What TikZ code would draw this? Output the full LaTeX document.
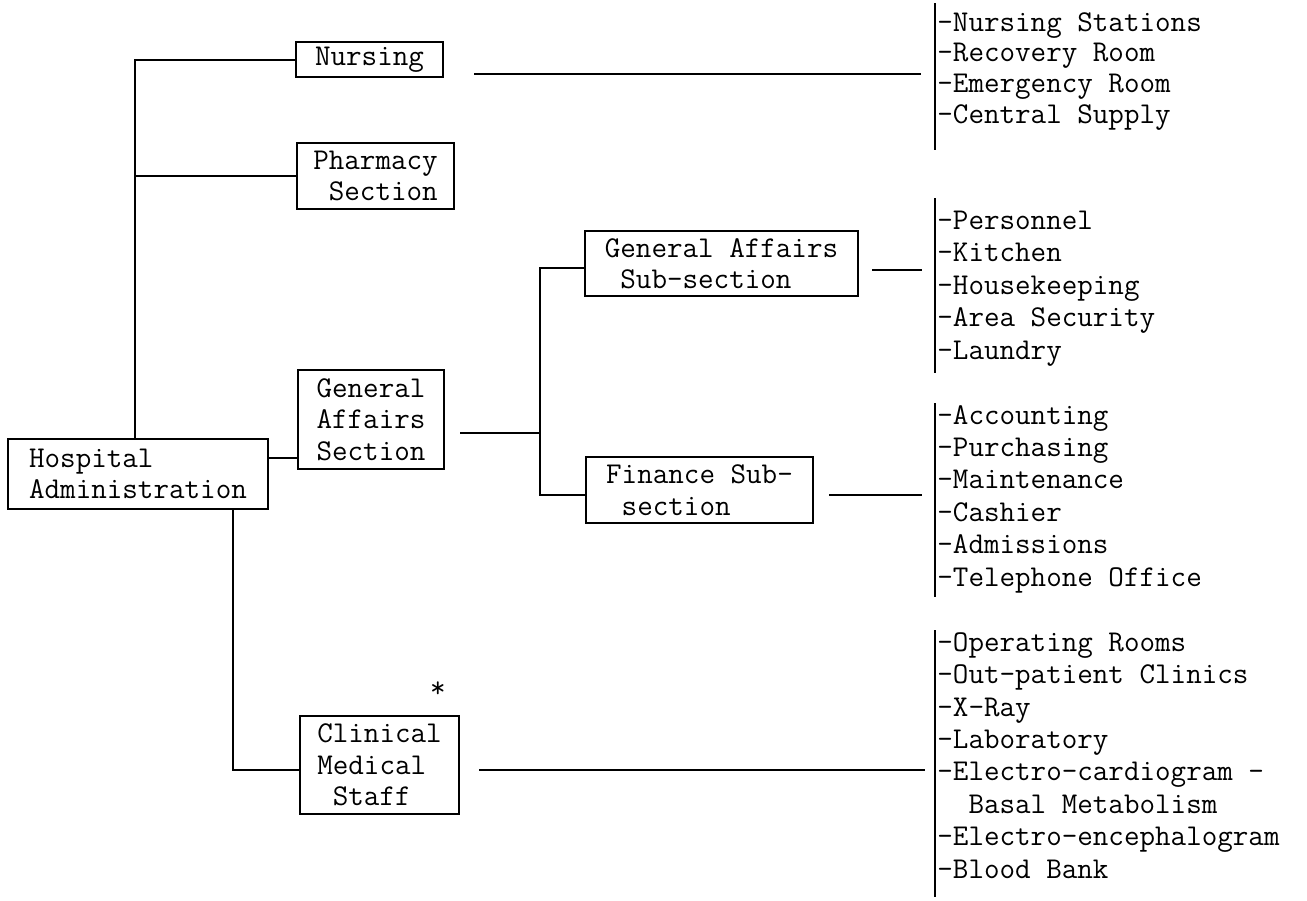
\documentclass[tikz,border=0pt]{standalone}
\usepackage{fontspec}
\begin{document}
\begin{tikzpicture}[x=0.5pt,y=-0.5pt,
    box/.style={draw,line width=1pt,inner sep=0pt,align=left,
      font=\ttfamily\fontsize{15.1}{15.7}\selectfont},
    link/.style={line width=1pt},
    items/.style={inner sep=0pt,align=left,anchor=base west,
      font=\ttfamily\fontsize{15.1}{16.2}\selectfont}]
  \useasboundingbox (0,0) rectangle (1307,900);
  % offices
  \node[box,anchor=north west,minimum width=130pt,minimum height=35pt] (admin) at (7,438) {Hospital\\Administration};
  \node[box,anchor=north west,minimum width=73.5pt,minimum height=17.5pt] (nursing) at (295,41) {Nursing};
  \node[box,anchor=north west,minimum width=78.5pt,minimum height=33pt] (pharmacy) at (296,142) {Pharmacy\\\phantom{X}Section};
  \node[box,anchor=north west,minimum width=73pt,minimum height=49.5pt] (gensec) at (297,369) {General\\Affairs\\Section};
  \node[box,anchor=north west,minimum width=79.5pt,minimum height=49pt] (clinical) at (299,715) {Clinical\\Medical\\\phantom{X}Staff};
  \node[box,anchor=north west,minimum width=136.5pt,minimum height=32.5pt] (gasub) at (584,230) {General Affairs\\\phantom{X}Sub-section};
  \node[box,anchor=north west,minimum width=113.5pt,minimum height=33pt] (finsub) at (585,456) {Finance Sub-\\\phantom{X}section};
  \node[font=\ttfamily\fontsize{15.1}{15.7}\selectfont,inner sep=0pt] (star) at (438,690) {*};
  % units under each office (placed by the baseline of their last line)
  \node[items,font=\ttfamily\fontsize{15.1}{15.3}\selectfont] (nurlist) at (937,123) {-Nursing Stations\\-Recovery Room\\-Emergency Room\\-Central Supply};
  \node[items] (galist) at (937,359) {-Personnel\\-Kitchen\\-Housekeeping\\-Area Security\\-Laundry};
  \node[items] (finlist) at (937,586) {-Accounting\\-Purchasing\\-Maintenance\\-Cashier\\-Admissions\\-Telephone Office};
  \node[items] (clinlist) at (937,878) {-Operating Rooms\\-Out-patient Clinics\\-X-Ray\\-Laboratory\\-Electro-cardiogram -\\\phantom{XX}Basal Metabolism\\-Electro-encephalogram\\-Blood Bank};
  % brackets
  \coordinate (nurtop) at (935,3);   \coordinate (nurbot) at (935,150);
  \coordinate (gatop) at (935,198);  \coordinate (gabot) at (935,373);
  \coordinate (fintop) at (935,403); \coordinate (finbot) at (935,597);
  \coordinate (clintop) at (935,630); \coordinate (clinbot) at (935,897);
  \draw[link] (nurtop) -- (nurbot);
  \draw[link] (gatop) -- (gabot);
  \draw[link] (fintop) -- (finbot);
  \draw[link] (clintop) -- (clinbot);
  % helper points
  \coordinate (trunk) at (135,0);
  \coordinate (drop) at (233,770);
  \coordinate (agl) at (0,458);
  \coordinate (fork) at (540,433);
  \coordinate (forktop) at (540,268);
  \coordinate (forkbot) at (540,495);
  \coordinate (nurin) at (935,74);
  \coordinate (gain) at (935,270);
  \coordinate (finin) at (935,495);
  \coordinate (clinin) at (935,770);
  % lines of authority
  \draw[link] (nursing.west) -| (admin.north -| trunk);
  \draw[link] (pharmacy.west) -- (pharmacy.west -| trunk);
  \draw[link] (admin.east |- agl) -- (gensec.west |- agl);
  \draw[link] (admin.south -| drop) -- (drop) -- (clinical.west |- drop);
  \draw[link,shorten <=7.5pt] (gensec.east |- fork) -- (fork);
  \draw[link] (gasub.west |- forktop) -- (forktop) -- (forkbot) -- (finsub.west |- forkbot);
  \draw[link,shorten <=15pt,shorten >=7pt] (nursing.east |- nurin) -- (nurin);
  \draw[link,shorten <=6.5pt,shorten >=6.5pt] (gasub.east |- gain) -- (gain);
  \draw[link,shorten <=7.5pt,shorten >=6.5pt] (finsub.east |- finin) -- (finin);
  \draw[link,shorten <=9.5pt,shorten >=5pt] (clinical.east |- clinin) -- (clinin);
\end{tikzpicture}
\end{document}
